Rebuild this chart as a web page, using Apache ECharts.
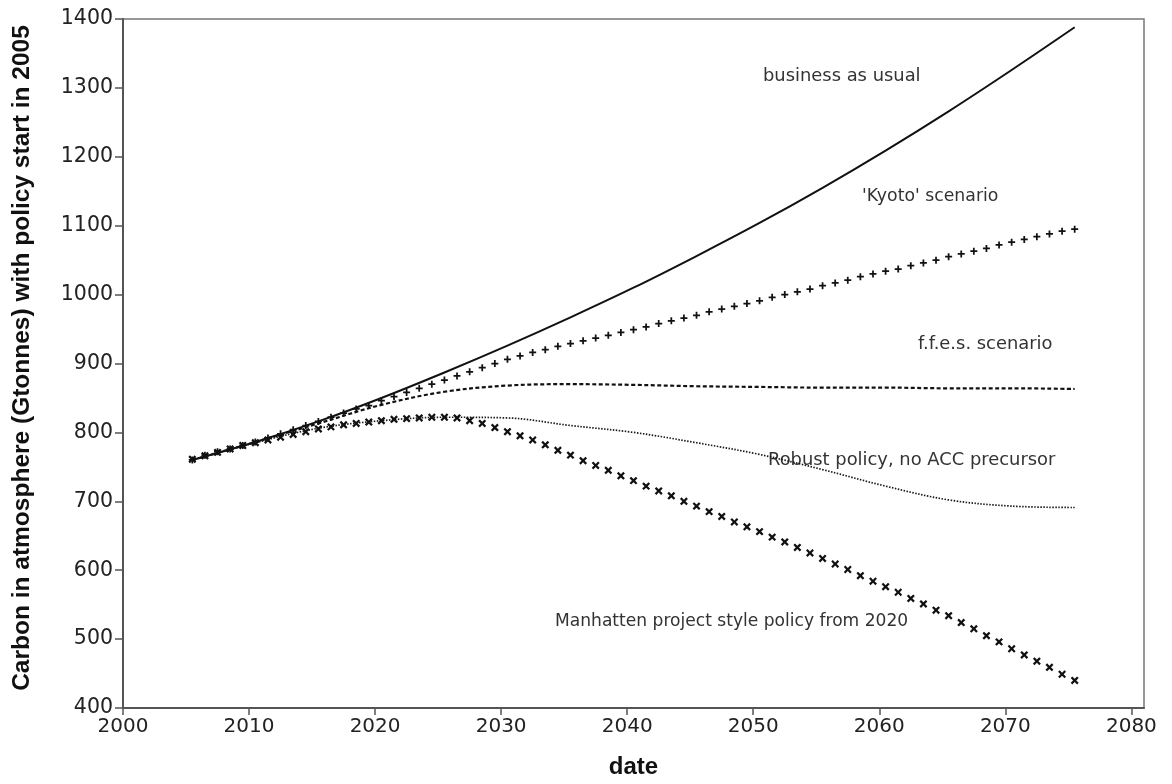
<!DOCTYPE html>
<html>
<head>
<meta charset="utf-8">
<script src="https://cdn.jsdelivr.net/npm/echarts@6/dist/echarts.min.js"></script>
<style>
html,body{margin:0;padding:0;background:#fff;}
#chart{width:1172px;height:784px;}
</style>
</head>
<body>
<div id="chart"></div>
<script>
// ---- data ----
const xTicks = [2000, 2010, 2020, 2030, 2040, 2050, 2060, 2070, 2080];
const yTicks = [400, 500, 600, 700, 800, 900, 1000, 1100, 1200, 1300, 1400];

// 5-year readings (mid-year) for the plain-line scenarios
const fiveYears = [2005.5, 2010.5, 2015.5, 2020.5, 2025.5, 2030.5, 2035.5, 2040.5, 2045.5, 2050.5, 2055.5, 2060.5, 2065.5, 2070.5, 2075.5];
const businessAsUsual = [760, 786, 816, 850, 887, 926, 967, 1010, 1056, 1104, 1155, 1209, 1266, 1326, 1388];
const ffesScenario   = [760, 786, 813, 840, 859, 868, 870, 869, 867, 866, 865, 865, 864, 864, 863];
const robustPolicy   = [760, 785, 806, 817, 822, 821, 810, 800, 785, 768, 746, 722, 702, 693, 691];

// annual readings (mid-year) for the marker scenarios, 2005.5 .. 2075.5
const years = Array.from({length: 71}, (_, i) => 2005.5 + i);
const kyotoScenario = [
  760, 767, 772, 776, 781, 786, 792, 798, 804, 810,
  816, 822, 828, 834, 839, 846, 852, 858, 864, 870,
  876, 882, 888, 894, 900, 906, 911, 916, 920, 925,
  929, 933, 937, 941, 945, 949, 953, 958, 962, 966,
  970, 975, 979, 983, 987, 991, 996, 1000, 1004, 1008,
  1013, 1017, 1021, 1026, 1030, 1034, 1037, 1042, 1046, 1050,
  1055, 1059, 1063, 1067, 1072, 1076, 1080, 1084, 1088, 1092,
  1095
];
const manhattanPolicy = [
  761, 766, 771, 776, 781, 785, 789, 793, 797, 801,
  805, 808, 811, 813, 815, 817, 819, 820, 821, 822,
  822, 821, 817, 813, 807, 801, 795, 789, 782, 774,
  767, 759, 752, 745, 737, 730, 722, 715, 708, 700,
  693, 685, 678, 670, 663, 656, 648, 641, 633, 625,
  617, 609, 601, 592, 584, 576, 568, 559, 551, 542,
  534, 524, 515, 505, 496, 486, 477, 468, 459, 449,
  440
];

const yTitle = 'Carbon in atmosphere (Gtonnes) with policy start in 2005';
const xTitle = 'date';

// ---- chart ----
const pair = (xs, ys) => xs.map((x, i) => [x, ys[i]]);
const ink = '#111';
const plusPath = 'path://M3,0h2v3h3v2h-3v3h-2v-3h-3v-2h3z';
const annFont = s => s + 'px "DejaVu Sans"';
const annColor = '#333';

const chart = echarts.init(document.getElementById('chart'), null, {renderer: 'canvas'});
chart.setOption({
  animation: false,
  backgroundColor: '#fff',
  grid: {
    left: 123, top: 19, right: 28, bottom: 69,
    show: true, borderColor: '#777', borderWidth: 1.5, backgroundColor: 'transparent'
  },
  xAxis: {
    type: 'value', min: 2000, max: 2081, interval: 10,
    name: xTitle, nameLocation: 'middle', nameGap: 47,
    nameTextStyle: {fontFamily: 'Liberation Sans', fontWeight: 'bold', fontSize: 24, color: '#111'},
    axisLine: {show: true, lineStyle: {color: '#555', width: 2}},
    axisTick: {show: true, inside: false, length: 7, customValues: xTicks, lineStyle: {color: '#555', width: 1.5}},
    axisLabel: {customValues: xTicks, margin: 9, fontFamily: 'DejaVu Sans', fontSize: 20, color: '#222',
      formatter: v => String(v)},
    splitLine: {show: false}
  },
  yAxis: {
    type: 'value', min: 400, max: 1400, interval: 100,
    axisLine: {show: true, lineStyle: {color: '#555', width: 2}},
    axisTick: {show: true, inside: false, length: 8, lineStyle: {color: '#555', width: 1.5}},
    axisLabel: {margin: 10, fontFamily: 'DejaVu Sans', fontSize: 20.5, color: '#222',
      formatter: v => yTicks.includes(v) ? String(v) : ''},
    splitLine: {show: false}
  },
  graphic: [
    {type: 'text', x: 22, y: 358, rotation: Math.PI / 2,
      style: {text: yTitle, font: 'bold 24.5px "Liberation Sans"', fill: '#111', align: 'center', verticalAlign: 'middle'}},
    {type: 'text', x: 763, y: 76, style: {text: 'business as usual', font: annFont(17.9), fill: annColor, verticalAlign: 'middle'}},
    {type: 'text', x: 862, y: 197, style: {text: "'Kyoto' scenario", font: annFont(17.3), fill: annColor, verticalAlign: 'middle'}},
    {type: 'text', x: 918, y: 344, style: {text: 'f.f.e.s. scenario', font: annFont(17.9), fill: annColor, verticalAlign: 'middle'}},
    {type: 'text', x: 768, y: 460, style: {text: 'Robust policy, no ACC precursor', font: annFont(17.9), fill: annColor, verticalAlign: 'middle'}},
    {type: 'text', x: 555, y: 622, style: {text: 'Manhatten project style policy from 2020', font: annFont(17.1), fill: annColor, verticalAlign: 'middle'}}
  ],
  series: [
    {
      name: 'business as usual', type: 'line', data: pair(fiveYears, businessAsUsual),
      smooth: 0.35, showSymbol: false, lineStyle: {color: ink, width: 2}
    },
    {
      name: 'f.f.e.s. scenario', type: 'line', data: pair(fiveYears, ffesScenario),
      smooth: 0.35, showSymbol: false, lineStyle: {color: ink, width: 2.2, type: [4, 2.5]}
    },
    {
      name: 'Robust policy, no ACC precursor', type: 'line', data: pair(fiveYears, robustPolicy),
      smooth: 0.35, showSymbol: false, lineStyle: {color: '#1a1a1a', width: 1.7, type: [1.5, 1.5]}
    },
    {
      name: "'Kyoto' scenario", type: 'line', data: pair(years, kyotoScenario),
      showSymbol: true, showAllSymbol: true, symbol: plusPath, symbolSize: 7,
      itemStyle: {color: ink}, lineStyle: {width: 0, opacity: 0}
    },
    {
      name: 'Manhatten project style policy from 2020', type: 'line', data: pair(years, manhattanPolicy),
      showSymbol: true, showAllSymbol: true, symbol: plusPath, symbolSize: 9, symbolRotate: 45,
      itemStyle: {color: ink}, lineStyle: {width: 0, opacity: 0}
    }
  ]
});
</script>
</body>
</html>
